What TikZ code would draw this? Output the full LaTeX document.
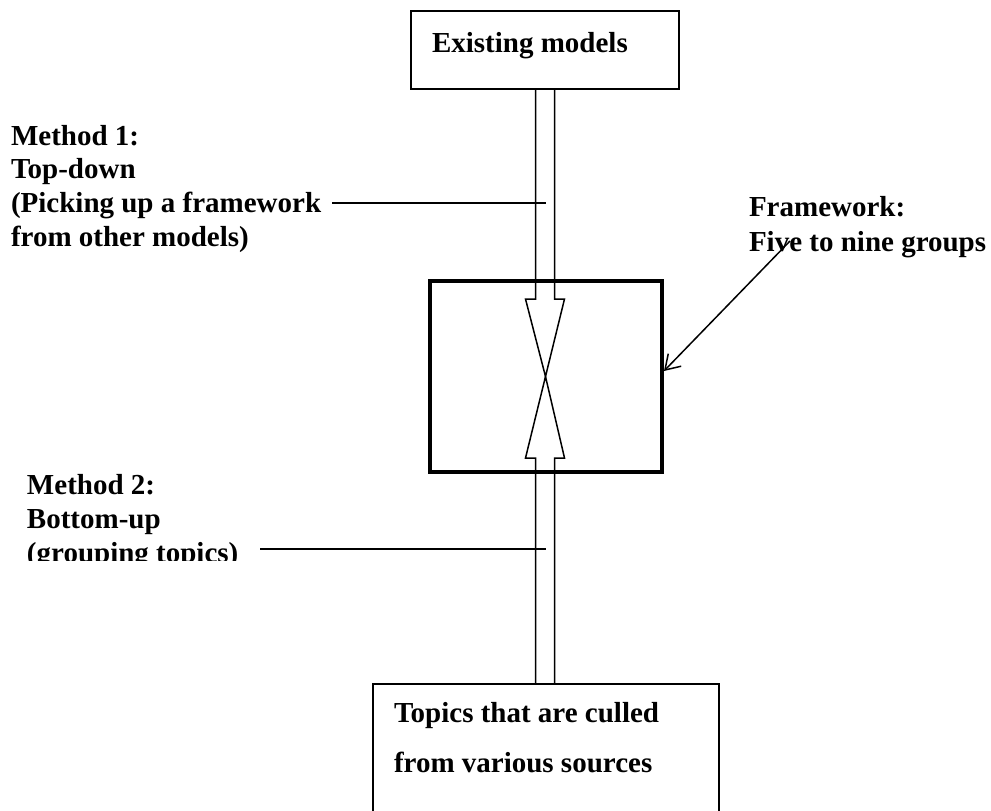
\documentclass[tikz,border=0pt]{standalone}
\usepackage{fontspec}
\setmainfont{Liberation Serif}
\usetikzlibrary{arrows.meta,calc}
\begin{document}
\begin{tikzpicture}[x=1pt,y=-1pt,
  thin/.style={line width=1.5pt},
  plainbox/.style={draw,line width=1.5pt,inner sep=0pt,outer sep=0pt},
  framebox/.style={draw,line width=4.5pt,inner sep=0pt,outer sep=0pt},
  lbl/.style={anchor=base west,inner sep=0pt,outer sep=0pt,font=\fontsize{29}{34}\selectfont\bfseries},
  blk/.style={line width=1.5pt,line join=miter},
  ptr/.style={line width=1.5pt,-{Straight Barb[length=14pt,width=18pt]}}]
\useasboundingbox (0,0) rectangle (991,811);
\clip (0,0) rectangle (991,811);
\fill[white] (0,0) rectangle (991,811);

% boxes
\node[plainbox,minimum width=268pt,minimum height=78pt] (models) at (545,50) {};
\node[framebox,minimum width=232pt,minimum height=191pt] (fw) at (546,376.5) {};
\node[plainbox,minimum width=346pt,minimum height=200pt] (topics) at (546,784) {};

% box texts
\node[lbl] (tmodels) at (432,52) {Existing models};
\node[lbl] (ttop1) at (394,722) {Topics that are culled};
\node[lbl] (ttop2) at (394,772) {from various sources};

% block arrows meeting in the frame
\coordinate (tip) at ($(models.south |- fw.center)+(0.5,0)$);
\draw[blk] ($(models.south)+(-9.5,0)$) -- ($(models.south |- fw.north)+(-9.5,18)$)
  -- ++(-10,0) -- (tip) -- ($(models.south |- fw.north)+(19.5,18)$)
  -- ++(-10,0) -- ($(models.south)+(9.5,0)$);
\draw[blk] ($(models.south |- topics.north)+(-9.5,0)$) -- ($(models.south |- fw.south)+(-9.5,-14)$)
  -- ++(-10,0) -- (tip) -- ($(models.south |- fw.south)+(19.5,-14)$)
  -- ++(-10,0) -- ($(models.south |- topics.north)+(9.5,0)$);

% Method 1
\node[lbl] (m1a) at (11,145) {Method 1:};
\node[lbl] (m1b) at (11,178) {Top-down};
\node[lbl] (m1c) at (11,212) {(Picking up a framework};
\node[lbl] (m1d) at (11,246) {from other models)};
\coordinate (l1s) at (332,203);
\coordinate (l1e) at (546,203);
\draw[thin] (l1s) -- (l1e);

% Method 2
\node[lbl] (m2a) at (27,494) {Method 2:};
\node[lbl] (m2b) at (27,528) {Bottom-up};
\begin{scope}
  \clip (0,0) rectangle (320,560);
  \node[lbl] (m2c) at (27,562) {(grouping topics)};
\end{scope}
\coordinate (l2s) at (260,549);
\coordinate (l2e) at (546,549);
\draw[thin] (l2s) -- (l2e);

% Framework label
\node[lbl] (fwa) at (749,216) {Framework:};
\node[lbl] (fwb) at (749,251) {Five to nine groups};
\coordinate (ps) at (790,241);
\draw[ptr] (ps) -- ($(fw.east |- 0,371)+(2,0)$);
\end{tikzpicture}
\end{document}
